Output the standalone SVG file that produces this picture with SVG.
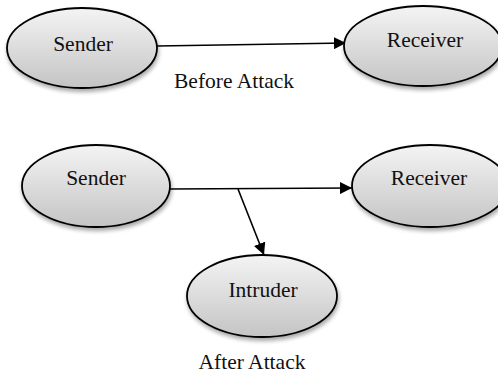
<svg xmlns="http://www.w3.org/2000/svg" width="498" height="376" viewBox="0 0 498 376">
  <style>
    .node { fill: url(#shade); stroke: #000; stroke-width: 1.8; filter: url(#drop); }
    .lbl { font-family: "Liberation Serif", "Times New Roman", serif; font-size: 21.5px; fill: #111; text-anchor: middle; }
    .edge { stroke: #000; stroke-width: 1.6; fill: none; marker-end: url(#head); }
  </style>
  <defs>
    <linearGradient id="shade" x1="0" y1="0" x2="0" y2="1">
      <stop offset="0" stop-color="#f4f4f4"/>
      <stop offset="1" stop-color="#c4c4c4"/>
    </linearGradient>
    <filter id="drop" x="-20%" y="-20%" width="140%" height="150%">
      <feGaussianBlur in="SourceAlpha" stdDeviation="2"/>
      <feOffset dx="1" dy="3" result="b"/>
      <feComponentTransfer><feFuncA type="linear" slope="0.35"/></feComponentTransfer>
      <feMerge><feMergeNode/><feMergeNode in="SourceGraphic"/></feMerge>
    </filter>
    <marker id="head" viewBox="0 0 12 12" refX="12" refY="6" markerWidth="12" markerHeight="12" markerUnits="userSpaceOnUse" orient="auto">
      <path d="M0,0 L12,6 L0,12 Z" fill="#000"/>
    </marker>
  </defs>

  <rect width="498" height="376" fill="#fff"/>

  <!-- connectors -->
  <g id="connectors">
    <line class="edge" x1="157" y1="46" x2="346" y2="43"/>
    <line class="edge" x1="170" y1="189" x2="352" y2="188"/>
    <line class="edge" x1="238" y1="189" x2="264" y2="255"/>
  </g>

  <!-- before attack -->
  <g id="sender-before">
    <ellipse class="node" cx="82" cy="48" rx="75" ry="40"/>
    <text class="lbl" x="83" y="51">Sender</text>
  </g>
  <g id="receiver-before">
    <ellipse class="node" cx="423" cy="46" rx="79" ry="40"/>
    <text class="lbl" x="425" y="47">Receiver</text>
  </g>
  <text id="caption-before" class="lbl" x="234" y="88">Before Attack</text>

  <!-- after attack -->
  <g id="sender-after">
    <ellipse class="node" cx="96" cy="186" rx="74" ry="41"/>
    <text class="lbl" x="96" y="185">Sender</text>
  </g>
  <g id="receiver-after">
    <ellipse class="node" cx="430" cy="186" rx="78" ry="41"/>
    <text class="lbl" x="429" y="185">Receiver</text>
  </g>
  <g id="intruder">
    <ellipse class="node" cx="262" cy="296" rx="75" ry="41"/>
    <text class="lbl" x="263" y="297">Intruder</text>
  </g>
  <text id="caption-after" class="lbl" x="252" y="369">After Attack</text>
</svg>
